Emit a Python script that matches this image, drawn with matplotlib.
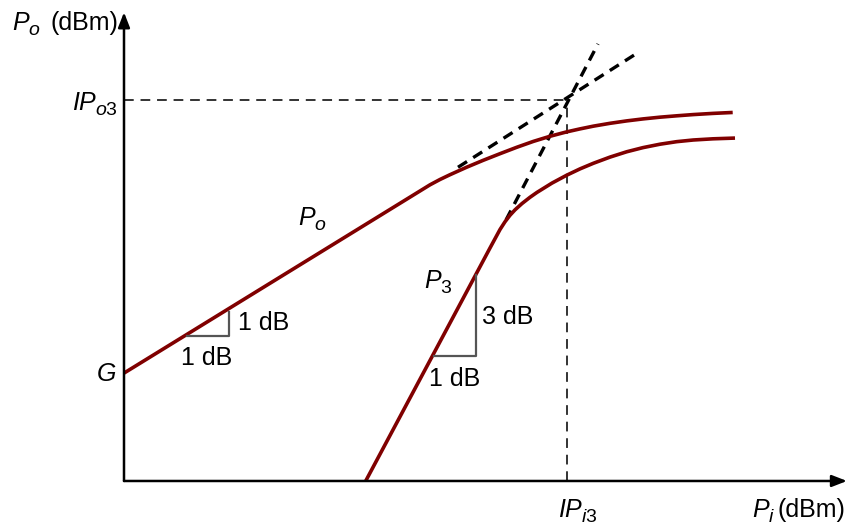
import matplotlib
matplotlib.use('Agg')
import matplotlib.pyplot as plt

plt.rcParams['font.family'] = ['Liberation Sans', 'DejaVu Sans']
plt.rcParams['mathtext.fontset'] = 'custom'
plt.rcParams['mathtext.rm'] = 'Liberation Sans'
plt.rcParams['mathtext.it'] = 'Liberation Sans:italic'

# fundamental output power vs input power (dB units)
pi_fund = [0.0, 27.6, 30.6, 31.6, 32.6, 34.27, 35.9, 37.6, 39.27, 40.93, 42.6,
           44.27, 45.6, 46.93, 48.6, 50.27, 51.9, 53.6, 55.27, 56.93, 58.9, 60.87]
po_fund = [17.4, 44.79, 47.77, 48.63, 49.40, 50.61, 51.71, 52.79, 53.82, 54.77, 55.60,
           56.31, 56.79, 57.23, 57.69, 58.08, 58.40, 58.68, 58.90, 59.10, 59.29, 59.44]

# third order product
pi_third = [24.17, 36.6, 37.6, 38.1, 38.6, 39.1, 39.8, 40.6, 41.3, 42.8, 44.27,
            45.6, 46.93, 48.6, 50.27, 51.9, 53.6, 55.27, 56.93, 58.9, 61.1]
po_third = [0.0, 37.58, 40.56, 41.81, 42.86, 43.73, 44.75, 45.76, 46.55, 48.05, 49.32,
            50.34, 51.24, 52.24, 53.10, 53.77, 54.32, 54.73, 55.00, 55.19, 55.31]

# extrapolated straight lines
fund_ext_x = [33.4, 51.5]
fund_ext_y = [50.6, 69.2]
third_ext_x = [38.2, 47.4]
third_ext_y = [42.1, 70.5]

ip_i3 = 44.3
ip_o3 = 61.5

# slope triangles
tri_fund_x = [6.3, 10.5, 10.5]
tri_fund_y = [23.4, 23.4, 27.3]
tri_third_x = [31.0, 35.2, 35.2]
tri_third_y = [20.2, 20.2, 33.3]

x_max = 72.3
y_max = 75.6

curve_color = '#800000'
axis_color = '#333333'
fs = 18
sub_fs = 14

fig = plt.figure(figsize=(8.48, 5.25), dpi=100)
ax = fig.add_axes([0, 0, 1, 1])
ax.set_xlim(-12.4, 72.4)
ax.set_ylim(-7.1, 77.58)
ax.axis('off')


def sub_label(x, y, main, sub):
    # main symbol sitting on baseline y, subscript tucked after it
    t = ax.text(x, y, main, fontsize=fs, ha='left', va='baseline')
    ax.annotate(sub, xy=(1, 0), xycoords=t, xytext=(-2.0, 0.3),
                textcoords='offset points', fontsize=sub_fs,
                ha='left', va='baseline')
    return t


# axes with arrow heads
ax.annotate('', xy=(x_max, 0), xytext=(0, 0),
            arrowprops=dict(arrowstyle='-|>,head_length=0.9,head_width=0.35',
                            color='black', lw=1.8, shrinkA=0, shrinkB=0))
ax.annotate('', xy=(0, y_max), xytext=(0, 0),
            arrowprops=dict(arrowstyle='-|>,head_length=0.9,head_width=0.35',
                            color='black', lw=1.8, shrinkA=0, shrinkB=0))

# intercept guide lines
ax.plot([0, ip_i3], [ip_o3, ip_o3], color=axis_color, lw=1.4, ls=(0, (5, 3.5)))
ax.plot([ip_i3, ip_i3], [0, ip_o3], color=axis_color, lw=1.4, ls=(0, (5, 3.5)))

# extrapolations
ax.plot(fund_ext_x, fund_ext_y, color='black', lw=2.4, ls=(0, (3.2, 2.2)))
ax.plot(third_ext_x, third_ext_y, color='black', lw=2.4, ls=(0, (3.2, 2.2)))

# curves
ax.plot(pi_fund, po_fund, color=curve_color, lw=2.6, solid_capstyle='butt',
        solid_joinstyle='round')
ax.plot(pi_third, po_third, color=curve_color, lw=2.6, solid_capstyle='butt',
        solid_joinstyle='round')

# slope triangles
ax.plot(tri_fund_x, tri_fund_y, color='#555555', lw=1.6)
ax.plot(tri_third_x, tri_third_y, color='#555555', lw=1.6)

ax.text(8.3, 19.8, '1 dB', fontsize=fs, ha='center', va='center')
ax.text(11.4, 25.5, '1 dB', fontsize=fs, ha='left', va='center')
ax.text(33.1, 16.4, '1 dB', fontsize=fs, ha='center', va='center')
ax.text(35.8, 26.5, '3 dB', fontsize=fs, ha='left', va='center')

sub_label(17.4, 41.3, '$P$', '$o$')
sub_label(30.0, 31.1, '$P$', '$3$')
ax.text(-2.8, 16.1, '$G$', fontsize=fs, ha='left', va='baseline')
sub_label(-5.2, 59.8, '$IP$', '$o3$')
sub_label(43.4, -5.8, '$IP$', '$i3$')
sub_label(62.8, -5.8, '$P$', '$i$')
ax.text(72.1, -5.8, '(dBm)', fontsize=fs, ha='right', va='baseline')
sub_label(-11.2, 72.7, '$P$', '$o$')
ax.text(-0.6, 72.7, '(dBm)', fontsize=fs, ha='right', va='baseline')

fig.savefig('out.png', dpi=100)
